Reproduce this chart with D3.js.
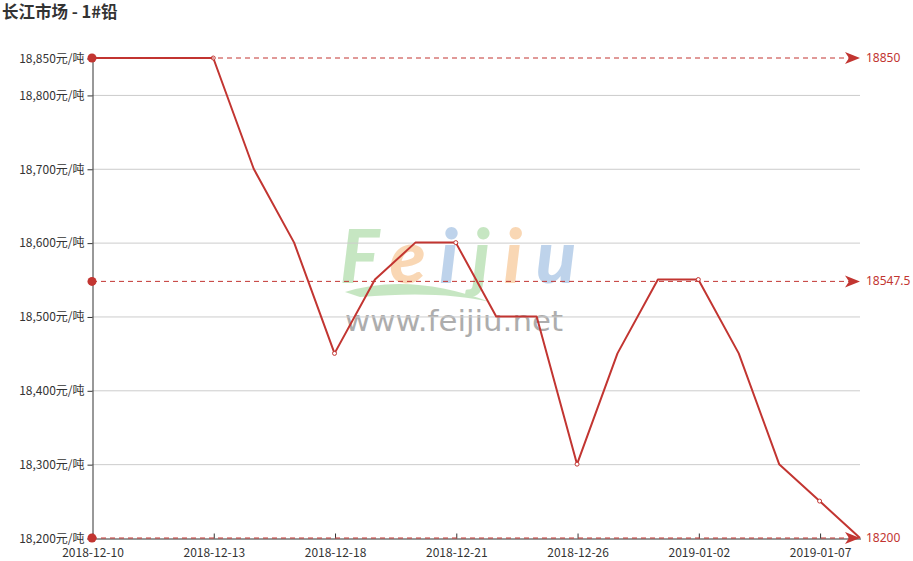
<!DOCTYPE html>
<html><head><meta charset="utf-8">
<script src="https://cdn.jsdelivr.net/npm/d3@7/dist/d3.min.js"></script>
<style>body{margin:0;background:#fff;}svg{display:block;font-family:"Noto Sans CJK SC","Noto Sans",sans-serif;}</style>
</head><body><svg id="c" width="913" height="561"></svg>
<script>
const title = "长江市场 - 1#铅";
const dates = ["2018-12-10","2018-12-11","2018-12-12","2018-12-13","2018-12-14","2018-12-17","2018-12-18","2018-12-19","2018-12-20","2018-12-21","2018-12-24","2018-12-25","2018-12-26","2018-12-27","2018-12-28","2019-01-02","2019-01-03","2019-01-04","2019-01-07","2019-01-08"];
const prices = [18850,18850,18850,18850,18700,18600,18450,18550,18600,18600,18500,18500,18300,18450,18550,18550,18450,18300,18250,18200];
const yTicks = [18200,18300,18400,18500,18600,18700,18800,18850];
const unit = "元/吨";

const svg = d3.select("#c");
const red = "#c23531";
const L = 92, R = 860, T = 58, B = 538;
const x = d3.scalePoint().domain(dates).range([L, R]);
const y = d3.scaleLinear().domain([d3.min(prices), d3.max(prices)]).range([B, T]);

// title
svg.append("text").attr("x", 2).attr("y", 18).attr("font-size", 16.5).attr("font-weight", "bold").attr("fill", "#333").text(title);

// watermark
const wm = svg.append("g").attr("opacity", 0.5);
const letters = [["F","#8fcf86"],["e","#f5b06b"],["i","#7fa9d8"],["j","#8fcf86"],["i","#f5b06b"],["u","#7fa9d8"]];
const wt = wm.append("text").attr("x", 340).attr("y", 283).attr("font-size", 74).attr("font-weight", "900").attr("font-style", "italic")
  .attr("font-family", "Lato, sans-serif").attr("textLength", 236).attr("lengthAdjust", "spacing");
letters.forEach(([ch, c]) => wt.append("tspan").attr("fill", c).text(ch));
wm.append("path").attr("d", "M345,292 Q410,272 490,302 Q440,290 360,297 Z").attr("fill", "#8fcf86");
svg.append("text").attr("x", 345).attr("y", 331).attr("font-size", 28).attr("fill", "#999").attr("opacity", 0.8)
  .attr("font-family", "DejaVu Sans, sans-serif").attr("textLength", 218).attr("lengthAdjust", "spacingAndGlyphs").text("www.feijiu.net");

// grid
svg.append("g").selectAll("line").data(yTicks.filter(v => v !== 18200 && v !== 18850)).join("line")
  .attr("x1", L).attr("x2", R).attr("y1", d => y(d) + 0.5).attr("y2", d => y(d) + 0.5)
  .attr("stroke", "#ccc").attr("stroke-width", 1);

// y axis
const fmt = d3.format(",");
const yAxis = d3.axisLeft(y).tickValues(yTicks).tickSize(5).tickPadding(3).tickFormat(d => fmt(d) + unit);
const gy = svg.append("g").attr("transform", `translate(${L + 0.5},0.5)`).call(yAxis);
gy.select(".domain").attr("stroke", "#333");
gy.selectAll(".tick line").attr("stroke", "#333");
gy.selectAll(".tick text").attr("font-size", 12).attr("fill", "#333").attr("font-family", '"Noto Sans CJK SC", sans-serif');

// x axis
const xAxis = d3.axisBottom(x).tickValues(dates.filter((d, i) => i % 3 === 0)).tickSize(-5).tickPadding(10).tickSizeOuter(0);
const gx = svg.append("g").attr("transform", `translate(0.5,${B + 0.5})`).call(xAxis);
gx.select(".domain").attr("stroke", "#333");
gx.selectAll(".tick line").attr("stroke", "#333");
gx.selectAll(".tick text").attr("font-size", 12).attr("fill", "#333").attr("font-family", '"Noto Sans CJK SC", sans-serif');

// line
svg.append("path").datum(prices).attr("fill", "none").attr("stroke", red).attr("stroke-width", 2).attr("stroke-linejoin", "round")
  .attr("d", d3.line().x((d, i) => x(dates[i])).y(d => y(d)));

// symbols
svg.append("g").selectAll("circle").data(prices.map((p, i) => [dates[i], p]).filter((d, i) => i % 3 === 0)).join("circle")
  .attr("cx", d => x(d[0])).attr("cy", d => y(d[1])).attr("r", 2).attr("fill", "#fff").attr("stroke", red).attr("stroke-width", 1);

// mark lines
const avg = d3.mean(prices);
const marks = [d3.max(prices), avg, d3.min(prices)];
const mg = svg.append("g");
marks.forEach(v => {
  const yy = y(v);
  mg.append("line").attr("x1", L).attr("x2", R - 10).attr("y1", yy).attr("y2", yy)
    .attr("stroke", red).attr("stroke-width", 1).attr("stroke-dasharray", "5,4");
  mg.append("circle").attr("cx", L).attr("cy", yy).attr("r", 4.5).attr("fill", red);
  mg.append("path").attr("d", `M${R},${yy} L${R - 15},${yy - 6} L${R - 11},${yy} L${R - 15},${yy + 6} Z`).attr("fill", red);
  mg.append("text").attr("x", R + 6).attr("y", yy + 4).attr("font-size", 12).attr("fill", red)
    .attr("font-family", '"Noto Sans", sans-serif').text(String(v));
});
</script></body></html>
